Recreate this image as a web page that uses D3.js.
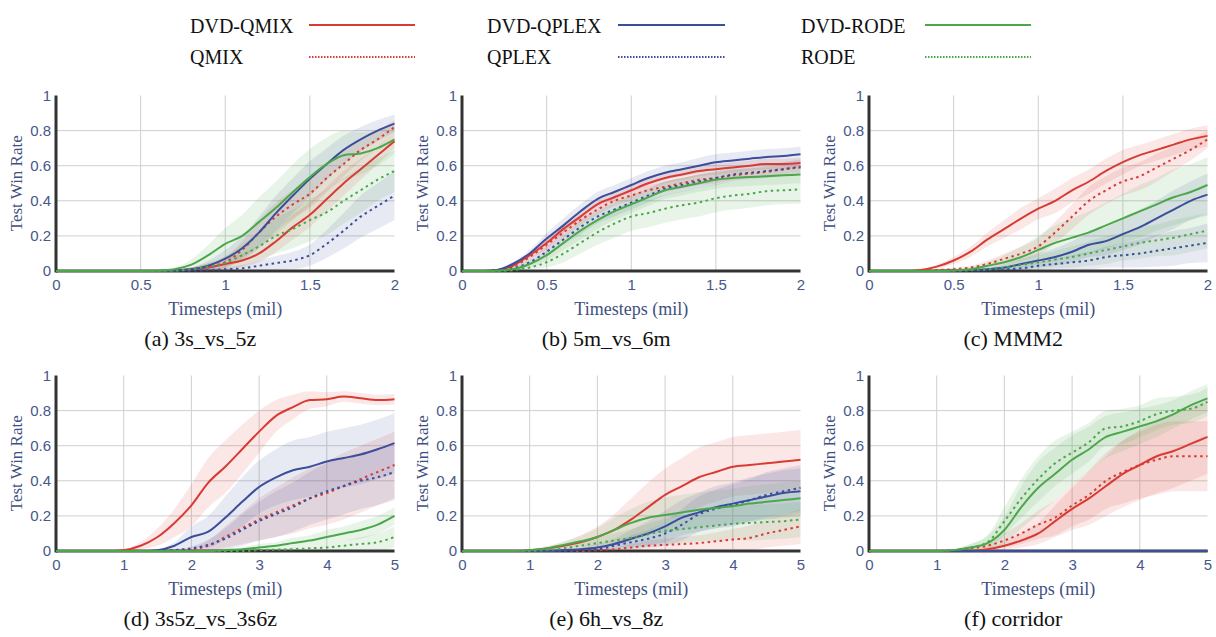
<!DOCTYPE html>
<html>
<head>
<meta charset="utf-8">
<script src="https://cdn.jsdelivr.net/npm/d3@7"></script>
<style>body{margin:0;background:#fff}</style>
</head>
<body>
<svg id="chart" width="1216" height="637"></svg>
<script>
// methods, in legend order (column by column)
const methods = ['DVD-QMIX', 'QMIX', 'DVD-QPLEX', 'QPLEX', 'DVD-RODE', 'RODE'];
const methodColors = ['#d83b33', '#d83b33', '#3b4d9b', '#3b4d9b', '#4aa84a', '#4aa84a'];
const methodDotted = [false, true, false, true, false, true];

const panelTitles = ['(a) 3s_vs_5z', '(b) 5m_vs_6m', '(c) MMM2', '(d) 3s5z_vs_3s6z', '(e) 6h_vs_8z', '(f) corridor'];
const xTicks2 = [0, 0.5, 1, 1.5, 2];
const xTicks5 = [0, 1, 2, 3, 4, 5];
const yTicks = [0, 0.2, 0.4, 0.6, 0.8, 1];
const steps2 = [0, 0.1, 0.2, 0.3, 0.4, 0.5, 0.6, 0.7, 0.8, 0.9, 1, 1.1, 1.2, 1.3, 1.4, 1.5, 1.6, 1.7, 1.8, 1.9, 2];
const steps5 = [0, 0.25, 0.5, 0.75, 1, 1.25, 1.5, 1.75, 2, 2.25, 2.5, 2.75, 3, 3.25, 3.5, 3.75, 4, 4.25, 4.5, 4.75, 5];

// (a) 3s_vs_5z  -- mean test win rate and std band half-width
const a_DVDQMIX = [0,0,0,0,0,0,0,0.003,0.01,0.02,0.04,0.06,0.10,0.17,0.25,0.32,0.41,0.50,0.58,0.66,0.74];
const a_QMIX = [0,0,0,0,0,0,0,0.003,0.01,0.025,0.05,0.12,0.22,0.31,0.38,0.44,0.53,0.61,0.69,0.75,0.82];
const a_DVDQPLEX = [0,0,0,0,0,0,0,0.003,0.01,0.03,0.07,0.13,0.22,0.33,0.43,0.525,0.61,0.69,0.75,0.80,0.84];
const a_QPLEX = [0,0,0,0,0,0,0,0,0.002,0.005,0.01,0.015,0.03,0.045,0.06,0.09,0.155,0.23,0.31,0.37,0.43];
const a_DVDRODE = [0,0,0,0,0,0,0.002,0.01,0.036,0.09,0.155,0.20,0.28,0.36,0.45,0.535,0.61,0.66,0.67,0.70,0.75];
const a_RODE = [0,0,0,0,0,0,0,0.003,0.01,0.025,0.045,0.09,0.14,0.20,0.24,0.29,0.335,0.40,0.46,0.52,0.57];
const a_DVDQMIX_sd = [0,0,0,0,0,0,0,0.005,0.01,0.02,0.03,0.04,0.05,0.06,0.07,0.07,0.07,0.07,0.06,0.05,0.04];
const a_QMIX_sd = [0,0,0,0,0,0,0,0.005,0.01,0.02,0.03,0.05,0.07,0.08,0.08,0.08,0.08,0.07,0.06,0.05,0.04];
const a_DVDQPLEX_sd = [0,0,0,0,0,0,0,0.005,0.01,0.03,0.05,0.07,0.09,0.10,0.10,0.10,0.09,0.08,0.07,0.06,0.05];
const a_QPLEX_sd = [0,0,0,0,0,0,0,0,0.005,0.01,0.01,0.02,0.03,0.04,0.05,0.06,0.08,0.10,0.12,0.13,0.14];
const a_DVDRODE_sd = [0,0,0,0,0,0,0.005,0.01,0.03,0.06,0.09,0.12,0.14,0.15,0.16,0.16,0.15,0.14,0.12,0.10,0.08];
const a_RODE_sd = [0,0,0,0,0,0,0,0.005,0.01,0.02,0.04,0.06,0.08,0.10,0.11,0.12,0.13,0.13,0.13,0.12,0.12];

// (b) 5m_vs_6m
const b_DVDQMIX = [0,0,0.005,0.03,0.09,0.16,0.24,0.31,0.38,0.42,0.46,0.50,0.53,0.55,0.57,0.58,0.59,0.60,0.61,0.61,0.615];
const b_QMIX = [0,0,0.004,0.025,0.08,0.15,0.22,0.29,0.35,0.40,0.43,0.46,0.48,0.50,0.52,0.53,0.545,0.555,0.565,0.58,0.59];
const b_DVDQPLEX = [0,0,0.005,0.04,0.10,0.185,0.26,0.34,0.41,0.45,0.49,0.53,0.56,0.58,0.60,0.62,0.63,0.64,0.65,0.655,0.665];
const b_QPLEX = [0,0,0.003,0.015,0.05,0.11,0.18,0.25,0.31,0.35,0.39,0.43,0.47,0.49,0.51,0.53,0.55,0.56,0.57,0.58,0.595];
const b_DVDRODE = [0,0,0.002,0.01,0.04,0.09,0.16,0.23,0.29,0.34,0.38,0.42,0.46,0.48,0.50,0.52,0.53,0.535,0.54,0.545,0.55];
const b_RODE = [0,0,0,0.005,0.02,0.05,0.10,0.16,0.22,0.27,0.31,0.33,0.355,0.375,0.39,0.415,0.43,0.44,0.455,0.46,0.465];
const b_DVDQMIX_sd = [0,0,0.005,0.01,0.02,0.03,0.03,0.03,0.03,0.03,0.03,0.03,0.03,0.03,0.03,0.03,0.03,0.03,0.03,0.03,0.03];
const b_QMIX_sd = [0,0,0.005,0.01,0.02,0.03,0.03,0.03,0.03,0.03,0.03,0.03,0.03,0.03,0.03,0.03,0.03,0.03,0.03,0.03,0.03];
const b_DVDQPLEX_sd = [0,0,0.005,0.01,0.02,0.03,0.04,0.04,0.04,0.04,0.04,0.04,0.04,0.04,0.045,0.045,0.045,0.045,0.045,0.045,0.045];
const b_QPLEX_sd = [0,0,0.005,0.01,0.02,0.03,0.03,0.04,0.04,0.04,0.04,0.04,0.04,0.04,0.04,0.04,0.04,0.04,0.04,0.04,0.04];
const b_DVDRODE_sd = [0,0,0.005,0.01,0.02,0.03,0.04,0.05,0.05,0.05,0.05,0.05,0.05,0.05,0.05,0.05,0.05,0.05,0.05,0.05,0.05];
const b_RODE_sd = [0,0,0,0.005,0.01,0.03,0.05,0.06,0.07,0.08,0.08,0.08,0.08,0.08,0.08,0.08,0.08,0.08,0.08,0.08,0.08];

// (c) MMM2
const c_DVDQMIX = [0,0,0,0.005,0.025,0.06,0.11,0.18,0.24,0.30,0.355,0.40,0.46,0.51,0.57,0.62,0.66,0.69,0.72,0.75,0.77];
const c_QMIX = [0,0,0,0,0.005,0.01,0.02,0.04,0.07,0.10,0.14,0.22,0.31,0.40,0.46,0.51,0.54,0.59,0.64,0.69,0.75];
const c_DVDQPLEX = [0,0,0,0,0,0.003,0.005,0.01,0.02,0.04,0.06,0.08,0.11,0.15,0.17,0.21,0.25,0.30,0.35,0.40,0.435];
const c_QPLEX = [0,0,0,0,0,0,0.002,0.005,0.01,0.015,0.03,0.04,0.05,0.06,0.08,0.09,0.10,0.115,0.13,0.145,0.16];
const c_DVDRODE = [0,0,0,0,0,0.003,0.01,0.03,0.05,0.08,0.12,0.16,0.19,0.22,0.26,0.30,0.34,0.38,0.42,0.45,0.49];
const c_RODE = [0,0,0,0,0,0.002,0.005,0.01,0.02,0.035,0.05,0.065,0.08,0.10,0.12,0.14,0.16,0.175,0.19,0.21,0.23];
const c_DVDQMIX_sd = [0,0,0,0.005,0.01,0.02,0.03,0.04,0.05,0.06,0.06,0.07,0.07,0.07,0.07,0.07,0.06,0.06,0.06,0.06,0.06];
const c_QMIX_sd = [0,0,0,0,0.005,0.01,0.01,0.02,0.03,0.04,0.05,0.06,0.07,0.08,0.08,0.08,0.08,0.08,0.07,0.06,0.05];
const c_DVDQPLEX_sd = [0,0,0,0,0,0.003,0.005,0.01,0.02,0.03,0.04,0.05,0.06,0.07,0.08,0.09,0.10,0.10,0.11,0.11,0.12];
const c_QPLEX_sd = [0,0,0,0,0,0,0.002,0.005,0.01,0.015,0.02,0.03,0.04,0.05,0.06,0.07,0.08,0.09,0.10,0.10,0.11];
const c_DVDRODE_sd = [0,0,0,0,0,0.003,0.01,0.02,0.04,0.06,0.08,0.10,0.11,0.12,0.13,0.14,0.15,0.15,0.16,0.16,0.16];
const c_RODE_sd = [0,0,0,0,0,0.002,0.005,0.01,0.02,0.03,0.04,0.05,0.06,0.07,0.08,0.08,0.09,0.09,0.10,0.10,0.10];

// (d) 3s5z_vs_3s6z
const d_DVDQMIX = [0,0,0,0,0.005,0.03,0.08,0.16,0.26,0.39,0.48,0.58,0.68,0.77,0.82,0.86,0.865,0.88,0.87,0.86,0.865];
const d_QMIX = [0,0,0,0,0,0,0,0.005,0.01,0.03,0.08,0.13,0.18,0.22,0.26,0.30,0.33,0.37,0.41,0.45,0.49];
const d_DVDQPLEX = [0,0,0,0,0,0,0.005,0.03,0.08,0.11,0.19,0.28,0.365,0.42,0.46,0.48,0.51,0.53,0.55,0.58,0.615];
const d_QPLEX = [0,0,0,0,0,0,0,0.005,0.015,0.035,0.07,0.12,0.17,0.21,0.25,0.30,0.34,0.37,0.40,0.42,0.45];
const d_DVDRODE = [0,0,0,0,0,0,0,0,0,0,0.005,0.01,0.02,0.03,0.045,0.06,0.08,0.10,0.12,0.15,0.20];
const d_RODE = [0,0,0,0,0,0,0,0,0,0,0,0,0.005,0.008,0.01,0.015,0.02,0.03,0.04,0.05,0.08];
const d_DVDQMIX_sd = [0,0,0,0,0.005,0.02,0.05,0.08,0.12,0.14,0.15,0.14,0.12,0.09,0.07,0.05,0.04,0.03,0.03,0.03,0.03];
const d_QMIX_sd = [0,0,0,0,0,0,0,0.005,0.01,0.03,0.06,0.09,0.12,0.14,0.16,0.17,0.18,0.19,0.19,0.19,0.19];
const d_DVDQPLEX_sd = [0,0,0,0,0,0,0.005,0.02,0.06,0.09,0.12,0.14,0.15,0.16,0.17,0.17,0.17,0.17,0.17,0.17,0.17];
const d_QPLEX_sd = [0,0,0,0,0,0,0,0.005,0.01,0.03,0.06,0.09,0.11,0.13,0.14,0.15,0.16,0.16,0.16,0.16,0.16];
const d_DVDRODE_sd = [0,0,0,0,0,0,0,0,0,0,0.005,0.01,0.02,0.02,0.03,0.03,0.04,0.04,0.05,0.05,0.05];
const d_RODE_sd = [0,0,0,0,0,0,0,0,0,0,0,0,0.005,0.008,0.01,0.015,0.02,0.03,0.04,0.05,0.06];

// (e) 6h_vs_8z
const e_DVDQMIX = [0,0,0,0,0.005,0.015,0.03,0.05,0.08,0.12,0.18,0.25,0.32,0.37,0.42,0.45,0.48,0.49,0.50,0.51,0.52];
const e_QMIX = [0,0,0,0,0,0,0,0,0.005,0.01,0.02,0.03,0.035,0.04,0.045,0.055,0.065,0.075,0.10,0.12,0.14];
const e_DVDQPLEX = [0,0,0,0,0,0,0.005,0.01,0.02,0.04,0.07,0.10,0.14,0.19,0.22,0.25,0.27,0.29,0.31,0.33,0.34];
const e_QPLEX = [0,0,0,0,0,0,0,0.005,0.01,0.03,0.05,0.07,0.10,0.15,0.21,0.24,0.26,0.29,0.32,0.34,0.36];
const e_DVDRODE = [0,0,0,0,0.005,0.015,0.035,0.055,0.08,0.12,0.16,0.19,0.205,0.22,0.235,0.245,0.255,0.27,0.28,0.29,0.30];
const e_RODE = [0,0,0,0,0,0.005,0.015,0.03,0.045,0.06,0.075,0.095,0.115,0.125,0.135,0.145,0.155,0.16,0.165,0.17,0.18];
const e_DVDQMIX_sd = [0,0,0,0,0.005,0.01,0.02,0.04,0.06,0.09,0.12,0.14,0.15,0.16,0.17,0.17,0.17,0.17,0.17,0.17,0.17];
const e_QMIX_sd = [0,0,0,0,0,0,0,0,0.005,0.01,0.02,0.03,0.035,0.04,0.045,0.05,0.06,0.07,0.08,0.09,0.10];
const e_DVDQPLEX_sd = [0,0,0,0,0,0,0.005,0.01,0.02,0.03,0.05,0.07,0.09,0.10,0.11,0.12,0.12,0.13,0.13,0.13,0.13];
const e_QPLEX_sd = [0,0,0,0,0,0,0,0.005,0.01,0.02,0.04,0.05,0.07,0.09,0.10,0.11,0.12,0.12,0.13,0.13,0.13];
const e_DVDRODE_sd = [0,0,0,0,0.005,0.01,0.02,0.03,0.05,0.07,0.08,0.09,0.10,0.10,0.10,0.10,0.10,0.10,0.10,0.10,0.10];
const e_RODE_sd = [0,0,0,0,0,0.005,0.01,0.02,0.03,0.04,0.05,0.06,0.07,0.08,0.08,0.09,0.09,0.10,0.10,0.10,0.10];

// (f) corridor
const f_DVDQMIX = [0,0,0,0,0,0,0,0.01,0.03,0.06,0.10,0.17,0.24,0.30,0.37,0.44,0.49,0.54,0.57,0.61,0.65];
const f_QMIX = [0,0,0,0,0,0.005,0.015,0.03,0.06,0.10,0.15,0.19,0.26,0.32,0.40,0.45,0.49,0.52,0.54,0.54,0.54];
const f_DVDQPLEX = [0,0,0,0,0,0,0,0,0,0,0,0,0,0,0,0,0,0,0,0,0];
const f_QPLEX = [0,0,0,0,0,0,0,0,0,0,0,0,0,0,0,0,0,0,0,0,0];
const f_DVDRODE = [0,0,0,0,0,0.005,0.02,0.045,0.12,0.25,0.36,0.44,0.52,0.58,0.65,0.68,0.71,0.74,0.78,0.83,0.87];
const f_RODE = [0,0,0,0,0,0.005,0.02,0.05,0.17,0.30,0.41,0.50,0.56,0.62,0.70,0.71,0.74,0.78,0.80,0.81,0.85];
const f_DVDQMIX_sd = [0,0,0,0,0,0,0,0.01,0.02,0.04,0.06,0.09,0.12,0.15,0.17,0.19,0.20,0.21,0.21,0.21,0.21];
const f_QMIX_sd = [0,0,0,0,0,0.005,0.01,0.02,0.04,0.06,0.08,0.10,0.12,0.14,0.16,0.18,0.19,0.20,0.20,0.20,0.20];
const f_DVDQPLEX_sd = [0,0,0,0,0,0,0,0,0,0,0,0,0,0,0,0,0,0,0,0,0];
const f_QPLEX_sd = [0,0,0,0,0,0,0,0,0,0,0,0,0,0,0,0,0,0,0,0,0];
const f_DVDRODE_sd = [0,0,0,0,0,0.005,0.02,0.04,0.08,0.12,0.15,0.15,0.14,0.13,0.12,0.11,0.10,0.09,0.08,0.08,0.08];
const f_RODE_sd = [0,0,0,0,0,0.005,0.02,0.04,0.08,0.11,0.13,0.13,0.12,0.11,0.10,0.10,0.09,0.09,0.08,0.08,0.08];

const panels = [
    {steps: steps2, ticks: xTicks2, means: [a_DVDQMIX, a_QMIX, a_DVDQPLEX, a_QPLEX, a_DVDRODE, a_RODE],
     sds: [a_DVDQMIX_sd, a_QMIX_sd, a_DVDQPLEX_sd, a_QPLEX_sd, a_DVDRODE_sd, a_RODE_sd]},
    {steps: steps2, ticks: xTicks2, means: [b_DVDQMIX, b_QMIX, b_DVDQPLEX, b_QPLEX, b_DVDRODE, b_RODE],
     sds: [b_DVDQMIX_sd, b_QMIX_sd, b_DVDQPLEX_sd, b_QPLEX_sd, b_DVDRODE_sd, b_RODE_sd]},
    {steps: steps2, ticks: xTicks2, means: [c_DVDQMIX, c_QMIX, c_DVDQPLEX, c_QPLEX, c_DVDRODE, c_RODE],
     sds: [c_DVDQMIX_sd, c_QMIX_sd, c_DVDQPLEX_sd, c_QPLEX_sd, c_DVDRODE_sd, c_RODE_sd]},
    {steps: steps5, ticks: xTicks5, means: [d_DVDQMIX, d_QMIX, d_DVDQPLEX, d_QPLEX, d_DVDRODE, d_RODE],
     sds: [d_DVDQMIX_sd, d_QMIX_sd, d_DVDQPLEX_sd, d_QPLEX_sd, d_DVDRODE_sd, d_RODE_sd]},
    {steps: steps5, ticks: xTicks5, means: [e_DVDQMIX, e_QMIX, e_DVDQPLEX, e_QPLEX, e_DVDRODE, e_RODE],
     sds: [e_DVDQMIX_sd, e_QMIX_sd, e_DVDQPLEX_sd, e_QPLEX_sd, e_DVDRODE_sd, e_RODE_sd]},
    {steps: steps5, ticks: xTicks5, means: [f_DVDQMIX, f_QMIX, f_DVDQPLEX, f_QPLEX, f_DVDRODE, f_RODE],
     sds: [f_DVDQMIX_sd, f_QMIX_sd, f_DVDQPLEX_sd, f_QPLEX_sd, f_DVDRODE_sd, f_RODE_sd]}
];

const svg = d3.select('#chart');
svg.append('rect').attr('width', 1216).attr('height', 637).attr('fill', '#fff');

const colLeft = [56, 462, 869], plotW = 338.5;
const rowBottom = [271, 551], plotH = 175.5;
const tickColor = '#46578a', titleColor = '#3f4f80';
const serif = '"Liberation Serif", "Times New Roman", serif';
const sans = '"Liberation Sans", Arial, sans-serif';

panels.forEach((p, i) => {
    const left = colLeft[i % 3], bottom = rowBottom[Math.floor(i / 3)];
    const xMax = p.steps[p.steps.length - 1];
    const x = d3.scaleLinear().domain([0, xMax]).range([left, left + plotW]);
    const y = d3.scaleLinear().domain([0, 1]).range([bottom, bottom - plotH]);
    const g = svg.append('g');

    // grid
    g.selectAll('line.vgrid')
        .data(p.ticks.filter(t => t > 0 && t < xMax))
        .enter().append('line')
        .attr('x1', d => x(d)).attr('x2', d => x(d))
        .attr('y1', y(0)).attr('y2', y(1))
        .attr('stroke', '#cfcfcf').attr('stroke-width', 1);
    g.selectAll('line.hgrid')
        .data(yTicks.filter(t => t > 0 && t < 1))
        .enter().append('line')
        .attr('x1', x(0)).attr('x2', x(xMax))
        .attr('y1', d => y(d)).attr('y2', d => y(d))
        .attr('stroke', '#cfcfcf').attr('stroke-width', 1);

    // std bands
    const area = d3.area()
        .x(d => x(d.t))
        .y0(d => y(Math.max(0, d.m - d.s)))
        .y1(d => y(Math.min(1, d.m + d.s)))
        .curve(d3.curveMonotoneX);
    methods.forEach((m, k) => {
        const pts = p.steps.map((t, j) => ({t, m: p.means[k][j], s: p.sds[k][j]}));
        g.append('path').datum(pts)
            .attr('d', area)
            .attr('fill', methodColors[k])
            .attr('fill-opacity', 0.12);
    });

    // axes
    g.append('g')
        .attr('transform', `translate(0,${bottom})`)
        .call(d3.axisBottom(x).tickValues(p.ticks).tickSize(0).tickPadding(8).tickFormat(d => d))
        .call(s => s.select('.domain').remove())
        .selectAll('text')
        .attr('fill', tickColor).style('font-family', sans).style('font-size', '15px');
    g.append('g')
        .attr('transform', `translate(${left},0)`)
        .call(d3.axisLeft(y).tickValues(yTicks).tickSize(0).tickPadding(5).tickFormat(d => d))
        .call(s => s.select('.domain').remove())
        .selectAll('text')
        .attr('fill', tickColor).style('font-family', sans).style('font-size', '15px');
    g.append('line')
        .attr('x1', x(0)).attr('x2', x(0)).attr('y1', y(0) + 1.5).attr('y2', y(1))
        .attr('stroke', '#333').attr('stroke-width', 3);
    g.append('line')
        .attr('x1', x(0)).attr('x2', x(xMax)).attr('y1', y(0)).attr('y2', y(0))
        .attr('stroke', '#333').attr('stroke-width', 3);

    // mean curves
    const line = d3.line().x(d => x(d.t)).y(d => y(d.m)).curve(d3.curveMonotoneX);
    methods.forEach((m, k) => {
        const pts = p.steps.map((t, j) => ({t, m: p.means[k][j]}));
        g.append('path').datum(pts)
            .attr('d', line)
            .attr('fill', 'none')
            .attr('stroke', methodColors[k])
            .attr('stroke-width', 2)
            .attr('stroke-dasharray', methodDotted[k] ? '2.5,3.5' : null);
    });

    // titles
    g.append('text')
        .attr('x', left + plotW / 2).attr('y', bottom + 44)
        .attr('text-anchor', 'middle')
        .attr('fill', titleColor)
        .style('font-family', serif).style('font-size', '18px')
        .text('Timesteps (mil)');
    g.append('text')
        .attr('transform', `translate(${left - 34},${bottom - plotH / 2}) rotate(-90)`)
        .attr('text-anchor', 'middle')
        .attr('fill', titleColor)
        .style('font-family', serif).style('font-size', '17px')
        .text('Test Win Rate');
    g.append('text')
        .attr('x', left + plotW / 2 - 25).attr('y', bottom + 75)
        .attr('text-anchor', 'middle')
        .attr('fill', '#111')
        .style('font-family', serif).style('font-size', '22px')
        .text(panelTitles[i]);
});

// legend
const legendTextX = [190, 487, 801], legendLineX = [[309, 415], [618, 725], [925, 1031]];
const legendTextY = [33, 64], legendLineY = [25, 57];
const legend = svg.append('g');
methods.forEach((m, k) => {
    const col = Math.floor(k / 2), row = k % 2;
    legend.append('text')
        .attr('x', legendTextX[col]).attr('y', legendTextY[row])
        .attr('fill', '#111')
        .style('font-family', serif).style('font-size', '20px')
        .text(m);
    legend.append('line')
        .attr('x1', legendLineX[col][0]).attr('x2', legendLineX[col][1])
        .attr('y1', legendLineY[row]).attr('y2', legendLineY[row])
        .attr('stroke', methodColors[k])
        .attr('stroke-width', 2)
        .attr('stroke-dasharray', methodDotted[k] ? '1.5,1.5' : null);
});
</script>
</body>
</html>
